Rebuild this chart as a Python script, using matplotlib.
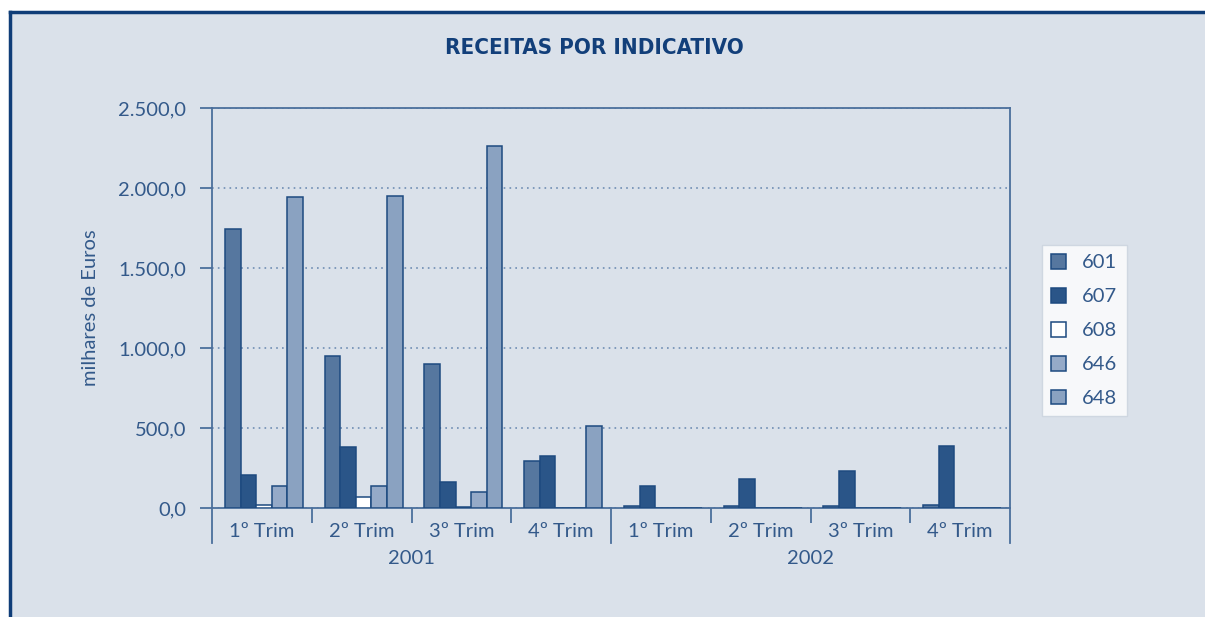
import numpy as np
import matplotlib
matplotlib.use("Agg")
import matplotlib.pyplot as plt
from matplotlib.patches import Rectangle
from matplotlib.lines import Line2D
from matplotlib.ticker import FuncFormatter

# data (milhares de Euros)
quarters = ["1º Trim", "2º Trim", "3º Trim", "4º Trim", "1º Trim", "2º Trim", "3º Trim", "4º Trim"]
years = ["2001", "2002"]
series = ["601", "607", "608", "646", "648"]
v601 = [1745, 950, 898, 296, 12, 12, 12, 17]
v607 = [206, 381, 162, 325, 137, 184, 231, 388]
v608 = [16, 66, 5, 0, 0, 0, 0, 0]
v646 = [137, 137, 102, 0, 0, 0, 0, 0]
v648 = [1941, 1947, 2265, 514, 0, 0, 0, 0]
values = [v601, v607, v608, v646, v648]

fills = ["#56779f", "#2a5588", "#ffffff", "#95aac8", "#8aa2c1"]
edge = "#1d4a80"
txt = "#33598a"
bg = "#dae1ea"
fs = 14.5

plt.rcParams["font.family"] = ["Lato", "DejaVu Sans"]

fig = plt.figure(figsize=(12.05, 6.17), dpi=100)
fig.patch.set_facecolor("white")

# panel with navy border on top and left
W, H = 1205, 617
fig.patches.append(Rectangle((9 / W, 0), 1, 1 - 11 / H, transform=fig.transFigure,
                             facecolor=bg, edgecolor="none", zorder=-10))
fig.lines.append(Line2D([9.5 / W, 1], [1 - 11.5 / H] * 2, transform=fig.transFigure,
                        color="#0f3d78", lw=2.5, zorder=-5))
fig.lines.append(Line2D([9.5 / W] * 2, [0, 1 - 11.5 / H], transform=fig.transFigure,
                        color="#0f3d78", lw=2.5, zorder=-5))

ax = fig.add_axes([212 / W, 1 - 508 / H, (1010 - 212) / W, 400 / H])
ax.set_facecolor(bg)

x = np.arange(len(quarters))
w = 0.156
for i, (name, vals) in enumerate(zip(series, values)):
    ax.bar(x + (i - 2) * w + 0.02, vals, w, color=fills[i], edgecolor=edge,
           linewidth=1.1, label=name, zorder=3)

ax.set_xlim(-0.5, len(quarters) - 0.5)
ax.set_ylim(0, 2500)
ax.set_yticks(np.arange(0, 2501, 500))
ax.yaxis.set_major_formatter(FuncFormatter(
    lambda v, p: f"{v:,.1f}".replace(",", "X").replace(".", ",").replace("X", ".")))
ax.grid(axis="y", linestyle=(0, (1, 2.5)), color="#6f8db3", lw=1.2, zorder=1)

for s in ax.spines.values():
    s.set_color("#4b6f9c")
    s.set_linewidth(1.3)

ax.tick_params(axis="y", direction="out", length=8.5, width=1.3, color="#4b6f9c",
               labelsize=fs, labelcolor=txt, pad=10)
ax.set_xticks(x)
ax.set_xticklabels(quarters)
ax.tick_params(axis="x", which="major", length=0, labelsize=fs, labelcolor=txt, pad=11)
ax.set_xticks([0.5, 1.5, 2.5, 4.5, 5.5, 6.5], minor=True)
ax.tick_params(axis="x", which="minor", direction="out", length=11, width=1.3,
               color="#4b6f9c")

# long separators at year boundaries
for b in [-0.5, 3.5, 7.5]:
    ax.plot([b, b], [0, -0.0875], transform=ax.get_xaxis_transform(), color="#4b6f9c",
            lw=1.3, clip_on=False)
for j, yr in enumerate(years):
    ax.text(1.5 + 4 * j, -0.125, yr, transform=ax.get_xaxis_transform(), ha="center",
            va="center", fontsize=fs, color=txt)

ax.set_ylabel("milhares de Euros", fontsize=fs, color=txt, labelpad=14)

fig.text(594 / W, 1 - 48 / H, "RECEITAS POR INDICATIVO", ha="center", va="center",
         fontsize=16, fontweight="bold", color="#123f7a", fontstretch="condensed",
         family=["DejaVu Sans"])

leg = ax.legend(loc="upper left", bbox_to_anchor=(1042 / W, 1 - 245 / H),
                bbox_transform=fig.transFigure, frameon=True, fancybox=False,
                fontsize=fs, labelcolor=txt, handlelength=0.75, handleheight=0.75,
                labelspacing=0.82, borderpad=0.45, handletextpad=0.8, borderaxespad=0)
leg.get_frame().set_facecolor("white")
leg.get_frame().set_edgecolor("#c9d2dd")
leg.get_frame().set_linewidth(1.0)

fig.savefig("out.png", dpi=100, facecolor=fig.get_facecolor())
